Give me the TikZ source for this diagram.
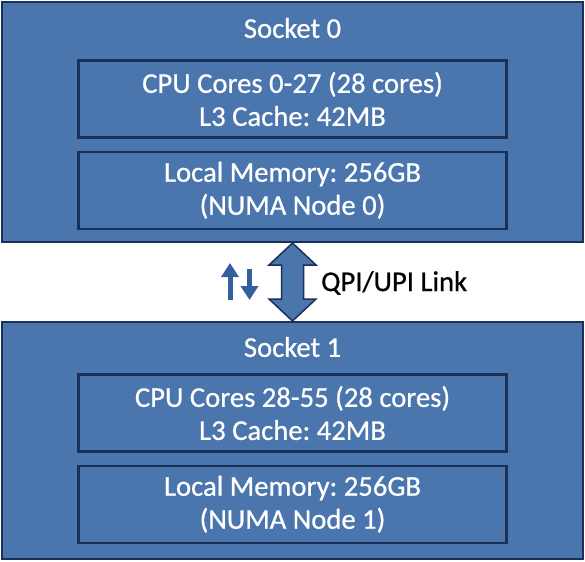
\documentclass[tikz,border=0pt]{standalone}
\usepackage{fontspec}
\setmainfont{Carlito}[FakeBold=0.7]
\frenchspacing
\usetikzlibrary{arrows.meta,positioning,calc}
\definecolor{socketblue}{RGB}{74,117,173}
\definecolor{edgenavy}{RGB}{26,48,88}
\definecolor{iconblue}{RGB}{52,95,158}

\begin{document}
\begin{tikzpicture}[>=Latex, node distance=0.24cm,
  socket/.style={draw=edgenavy, line width=0.04cm, fill=socketblue, minimum width=11.62cm, anchor=north west, inner sep=0pt},
  title/.style={text=white, font=\fontsize{16.3}{19}\selectfont},
  unit/.style={draw=edgenavy, line width=0.045cm, fill=socketblue, minimum width=8.56cm, minimum height=1.54cm, align=center, text=white, font=\fontsize{16.3}{18.8}\selectfont, inner sep=0pt},
  updown/.style={iconblue, line width=0.1cm, -{Triangle[width=0.34cm,length=0.28cm]}}]
  \useasboundingbox (0,0) rectangle (11.7,-11.22);
  \node[socket, minimum height=4.80cm] (s0) at (0.02,-0.02) {};
  \node[socket, minimum height=4.74cm] (s1) at (0.02,-6.42) {};
  \node[title] (t0) at ($(s0.north)+(0,-0.54)$) {Socket 0};
  \node[unit] (c0) at ($(s0.north)+(0,-1.96)$) {CPU Cores 0-27 (28 cores)\\L3 Cache: 42MB};
  \node[unit, below=of c0] (m0) {Local Memory: 256GB\\(NUMA Node 0)};
  \node[title] (t1) at ($(s1.north)+(0,-0.52)$) {Socket 1};
  \node[unit] (c1) at ($(s1.north)+(0,-1.84)$) {CPU Cores 28-55 (28 cores)\\L3 Cache: 42MB};
  \node[unit, below=of c1] (m1) {Local Memory: 256GB\\(NUMA Node 1)};
  \draw[edgenavy, line width=0.03cm, fill=socketblue] (s0.south) -- ++(0.47,-0.44) -- ++(-0.25,0)
    -- ($(s1.north)+(0.22,0.44)$) -- ++(0.25,0) -- (s1.north) -- ++(-0.47,0.44) -- ++(0.25,0)
    -- ($(s0.south)+(-0.22,-0.44)$) -- ++(-0.25,0) -- cycle;
  \node[anchor=west, font=\fontsize{16.3}{19}\selectfont] (lnk) at (6.30,-5.66) {QPI/UPI Link};
  \coordinate (ua) at (4.60,-6.00);
  \coordinate (ub) at (4.60,-5.26);
  \coordinate (da) at (4.99,-5.38);
  \coordinate (db) at (4.99,-6.00);
  \draw[updown] (ua) -- (ub);
  \draw[updown] (da) -- (db);
\end{tikzpicture}
\end{document}
